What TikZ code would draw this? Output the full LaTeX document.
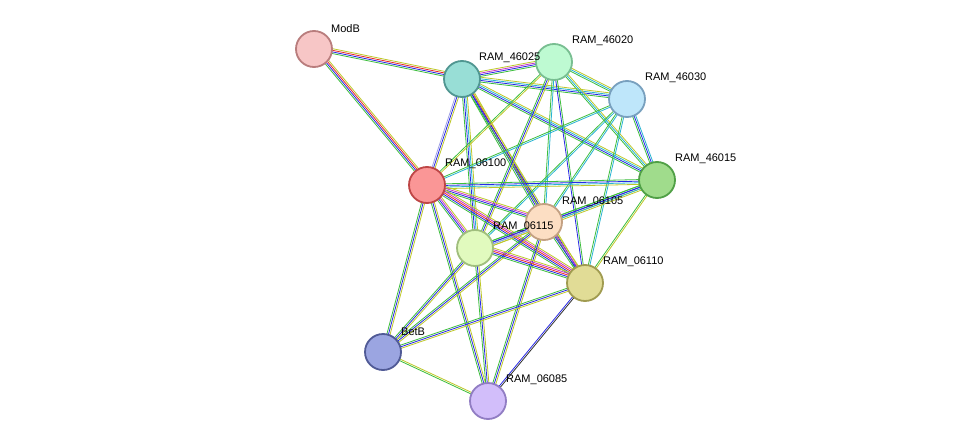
\documentclass[tikz,border=0pt]{standalone}
\usepackage{fontspec}
\setmainfont{Liberation Sans}
\usetikzlibrary{calc}
\definecolor{cg}{RGB}{60,190,60}
\definecolor{cb}{RGB}{40,40,230}
\definecolor{cy}{RGB}{190,200,40}
\definecolor{cr}{RGB}{235,40,40}
\definecolor{cmg}{RGB}{200,50,200}
\definecolor{cc}{RGB}{40,180,210}
\definecolor{cl}{RGB}{160,160,230}
\definecolor{ck}{RGB}{50,50,50}
\newcommand\edge[3]{%
  \foreach \c [count=\i] in {#3} {%
    \draw[draw=\c, line width=0.8pt] let \p1=($(#2)-(#1)$), \n1={-atan2(\y1,\x1)-90} in
      ([shift={(\n1:\i*1.6-2.4)}]#1) -- ([shift={(\n1:\i*1.6-2.4)}]#2);
  }}
\tikzset{
  nd/.style={circle, minimum size=36pt, inner sep=0pt, line width=1.8pt},
  lb/.style={font=\fontsize{11}{13}\selectfont, anchor=south west, inner sep=1pt}
}
\begin{document}
\begin{tikzpicture}[x=1pt,y=-1pt]
\useasboundingbox[fill=white] (0,0) rectangle (975,447);
\coordinate (ModB) at (314,49);
\coordinate (A25) at (462,79);
\coordinate (A20) at (554,62);
\coordinate (A30) at (627,99);
\coordinate (A15) at (657,180);
\coordinate (B00) at (427,185);
\coordinate (B05) at (544,222);
\coordinate (B15) at (475,248);
\coordinate (B10) at (585,283);
\coordinate (Bet) at (383,352);
\coordinate (B85) at (488,401);
% edges
\edge{ModB}{A25}{cg,cb,cr,cy}
\edge{ModB}{B00}{cg,cb,cr,cy}
\edge{A25}{A20}{cg,cb,cmg,cy}
\edge{A25}{A30}{cg,cb,cc,cy}
\edge{A25}{A15}{cg,cb,cc,cy}
\edge{A25}{B00}{cl,cb,cy}
\edge{A25}{B05}{cg,cb,cr,cy}
\edge{A25}{B15}{cg,cb,cc,cy}
\edge{A25}{B10}{cg,cb,cy}
\edge{A20}{A30}{cg,cc,cy}
\edge{A20}{A15}{cg,cc,cy}
\edge{A20}{B00}{cg,cy}
\edge{A20}{B05}{cg,cc}
\edge{A20}{B15}{cg,cb,cy}
\edge{A20}{B10}{cb,cg}
\edge{A30}{A15}{cg,cb,cc}
\edge{A30}{B00}{cg,cc}
\edge{A30}{B05}{cg,cc}
\edge{A30}{B15}{cg,cc}
\edge{A30}{B10}{cg,cc}
\edge{A15}{B00}{cg,cb,cc,cy}
\edge{A15}{B05}{cg,cb,cy}
\edge{A15}{B15}{cg,cb,cc,cy}
\edge{A15}{B10}{cg,cy}
\edge{B00}{B05}{cg,cb,cmg,cy}
\edge{B00}{B15}{cg,cb,cmg,cy}
\edge{B00}{B10}{cg,cb,cr,cmg,cy}
\edge{B00}{Bet}{cg,cb,cy}
\edge{B00}{B85}{cg,cb,cy}
\edge{B05}{B15}{cg,cb,cl,cy}
\edge{B05}{B10}{cg,cb,cmg,cy}
\edge{B05}{Bet}{cg,cb,cy}
\edge{B05}{B85}{cg,cb,cy}
\edge{B15}{B10}{cg,cb,cr,cmg,cy}
\edge{B15}{Bet}{cg,cb,cy}
\edge{B15}{B85}{cg,cb,cy}
\edge{B10}{Bet}{cg,cb,cy}
\edge{B10}{B85}{cb,ck}
\edge{Bet}{B85}{cg,cy}
% nodes
\node[nd, fill={rgb,255:red,247;green,198;blue,198}, draw={rgb,255:red,185;green,125;blue,125}] (nModB) at (ModB) {};
\node[nd, fill={rgb,255:red,152;green,222;blue,214}, draw={rgb,255:red,80;green,150;blue,145}] (n25) at (A25) {};
\node[nd, fill={rgb,255:red,190;green,250;blue,210}, draw={rgb,255:red,120;green,190;blue,145}] (n20) at (A20) {};
\node[nd, fill={rgb,255:red,190;green,230;blue,250}, draw={rgb,255:red,120;green,160;blue,190}] (n30) at (A30) {};
\node[nd, fill={rgb,255:red,160;green,220;blue,140}, draw={rgb,255:red,80;green,160;blue,70}] (n15) at (A15) {};
\node[nd, fill={rgb,255:red,250;green,150;blue,150}, draw={rgb,255:red,190;green,70;blue,70}] (n00) at (B00) {};
\node[nd, fill={rgb,255:red,252;green,222;blue,195}, draw={rgb,255:red,195;green,160;blue,130}] (n05) at (B05) {};
\node[nd, fill={rgb,255:red,225;green,250;blue,190}, draw={rgb,255:red,160;green,190;blue,125}] (n115) at (B15) {};
\node[nd, fill={rgb,255:red,225;green,220;blue,150}, draw={rgb,255:red,160;green,155;blue,80}] (n10) at (B10) {};
\node[nd, fill={rgb,255:red,155;green,165;blue,225}, draw={rgb,255:red,80;green,90;blue,150}] (nBet) at (Bet) {};
\node[nd, fill={rgb,255:red,210;green,190;blue,250}, draw={rgb,255:red,145;green,125;blue,195}] (n85) at (B85) {};
% labels
\node[lb] (lModB) at (330,34) {ModB};
\node[lb] (l25) at (478,64) {RAM\_46025};
\node[lb] (l20) at (571,47) {RAM\_46020};
\node[lb] (l30) at (644,84) {RAM\_46030};
\node[lb] (l15) at (674,165) {RAM\_46015};
\node[lb] (l00) at (444,170) {RAM\_06100};
\node[lb] (l05) at (561,208) {RAM\_06105};
\node[lb] (l115) at (492,233) {RAM\_06115};
\node[lb] (l10) at (602,268) {RAM\_06110};
\node[lb] (lBet) at (400,337) {BetB};
\node[lb] (l85) at (505,386) {RAM\_06085};
\end{tikzpicture}
\end{document}
